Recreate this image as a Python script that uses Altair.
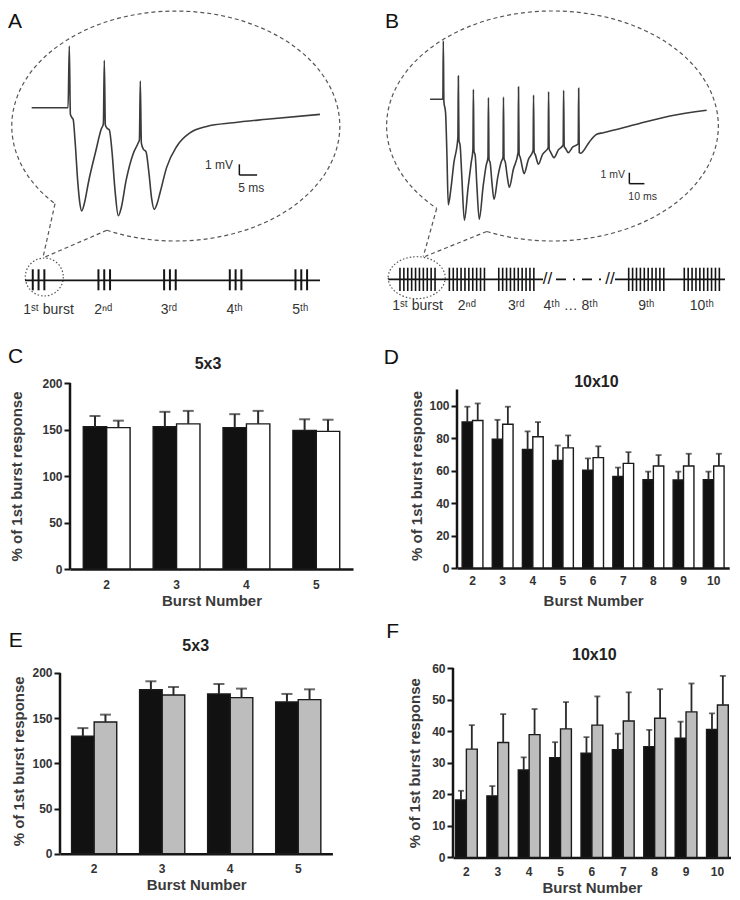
import altair as alt
import pandas as pd

FONT = "Liberation Sans"
TXT = "#333333"
INK = "#151515"
TRACE = "#3b3b3b"
DASH = "#555555"

# ---------------- bar chart data (% of 1st burst response) ----------------
bursts_5x3 = ["2", "3", "4", "5"]
bursts_10x10 = ["2", "3", "4", "5", "6", "7", "8", "9", "10"]

c_black_mean = [153, 153, 152, 149]
c_black_sem = [11.5, 16, 14.5, 12]
c_white_mean = [152, 156, 156, 148]
c_white_sem = [7.5, 14, 14, 12.5]

d_black_mean = [90, 79.3, 73, 66.3, 60.2, 56.4, 54.4, 54.2, 54.4]
d_black_sem = [9.4, 12, 11.2, 9.2, 7.3, 5.5, 5, 5.2, 5]
d_white_mean = [90.9, 88.6, 80.9, 74, 68, 64.5, 62.9, 62.9, 62.9]
d_white_sem = [10.5, 10.8, 9, 7.7, 7, 6.9, 6.7, 7.5, 7.5]

e_black_mean = [129.9, 181.5, 176.8, 167.9]
e_black_sem = [9.1, 9.3, 11, 8.9]
e_gray_mean = [145.8, 175.6, 172.7, 170.5]
e_gray_sem = [8.1, 8.9, 10, 11.4]

f_black_mean = [18.2, 19.5, 27.7, 31.6, 33, 34.1, 35.1, 37.8, 40.5]
f_black_sem = [2.9, 3.1, 4, 4.9, 5.1, 5.1, 5.3, 5.2, 5.1]
f_gray_mean = [34.3, 36.4, 38.9, 40.7, 41.9, 43.2, 44.1, 46.1, 48.3]
f_gray_sem = [7.6, 9, 8.1, 8.5, 9.1, 9.1, 9.2, 9, 9.2]

# ---------------- field potential traces (ms, mV) ----------------
a_time_ms = [-10.6, -0.35, 0.0, 0.3, 0.7, 1.1, 1.6, 2.4, 3.0, 3.5, 4.2, 5.5, 7.5, 9.0, 9.6,
             9.86, 10.15, 10.6, 11.3, 12.0, 12.9, 13.8, 14.6, 16.0, 18.0, 19.4, 19.75, 20.0,
             20.3, 20.9, 21.6, 22.4, 23.2, 23.9, 24.7, 25.6, 27.4, 30.3, 34.0, 38.7, 46.2,
             55.6, 70.6]
a_mv = [0.0, 0.0, 5.77, -0.6, -0.9, -1.1, -3.0, -7.0, -9.0, -9.65, -9.0, -6.8, -4.0, -2.0, -1.5,
        4.43, -1.6, -1.9, -2.1, -4.0, -7.8, -10.1, -9.4, -6.8, -4.3, -3.3, -3.0, 2.5,
        -3.3, -3.9, -4.1, -6.0, -8.5, -9.5, -9.0, -7.9, -5.6, -3.6, -2.35, -1.75, -1.4,
        -1.08, -0.62]

b_time_ms = [-8.8, -0.3, 0.0, 0.4, 1.5, 2.4, 3.3, 5.0, 7.0,
             9.7, 10.0, 10.4, 11.2, 12.3, 14.0, 16.5, 18.5,
             19.7, 20.0, 20.4, 21.2, 22.3, 23.9, 26.5, 28.5,
             29.7, 30.0, 30.4, 31.2, 32.3, 33.7, 36.3, 38.5,
             39.7, 40.0, 40.4, 41.2, 42.5, 43.9, 46.5,
             49.7, 50.0, 50.4, 51.2, 52.4, 53.7, 56.5,
             59.7, 60.0, 60.4, 61.2, 63.2, 66.0,
             69.7, 70.0, 70.4, 71.2, 73.6, 76.5,
             79.7, 80.0, 80.4, 81.2, 83.1, 86.0,
             89.7, 90.0, 90.4, 91.5, 93.1, 97.0, 102.0, 106.4, 128.6, 150.7, 175.1]
b_mv = [0.0, 0.0, 5.3, -0.2, -1.2, -5.0, -9.6, -8.2, -5.8,
        -3.5, 2.12, -3.7, -4.2, -7.0, -11.0, -8.0, -5.8,
        -4.55, 0.91, -4.7, -5.1, -7.8, -10.9, -7.9, -6.0,
        -5.3, 0.15, -5.45, -5.8, -7.5, -9.1, -7.0, -5.7,
        -5.25, 0.2, -5.4, -5.7, -7.0, -8.0, -6.4,
        -4.85, 1.12, -5.0, -5.3, -6.1, -6.76, -5.5,
        -4.64, 0.39, -4.8, -5.05, -5.9, -5.0,
        -4.4, 0.69, -4.55, -4.75, -5.3, -4.6,
        -4.15, 0.82, -4.3, -4.45, -4.85, -4.35,
        -4.04, 1.0, -4.85, -4.9, -4.7, -3.9, -3.18, -3.04, -2.27, -1.52, -1.0]

# scale bars (ms, mV)
a_scalebar = {"t0": 47.9, "t1": 52.9, "v0": -6.29, "v1": -5.29}
b_scalebar = {"t0": 123.7, "t1": 133.7, "v0": -7.67, "v1": -6.67}

# stimulation schematics
a_bursts = [1, 2, 3, 4, 5]
a_pulses = [1, 2, 3]
a_labels = ["1ˢᵗ burst", "2ⁿᵈ", "3ʳᵈ", "4ᵗʰ", "5ᵗʰ"]
b_slots = [1, 2, 3, 5.63, 6.755]
b_pulses = list(range(1, 11))
b_label_slots = [1, 2, 3, 4.1, 5.63, 6.755]
b_labels = ["1ˢᵗ burst", "2ⁿᵈ", "3ʳᵈ", "4ᵗʰ … 8ᵗʰ", "9ᵗʰ", "10ᵗʰ"]


def one():
    return pd.DataFrame({"k": [0]})


def txt(s, x, y, size, weight="normal", align="left", color=TXT, baseline="alphabetic"):
    return alt.Chart(pd.DataFrame({"s": [s]})).mark_text(
        font=FONT, fontSize=size, fontWeight=weight, align=align, baseline=baseline, color=color
    ).encode(text="s:N", x=alt.value(x), y=alt.value(y))


def seg(x1, y1, x2, y2, dash=None, width=1.2, color=DASH):
    kw = dict(color=color, strokeWidth=width)
    if dash:
        kw["strokeDash"] = dash
    return alt.Chart(one()).mark_rule(**kw).encode(
        x=alt.value(x1), y=alt.value(y1), x2=alt.value(x2), y2=alt.value(y2))


def vanchor(x, top, bottom):
    # invisible vertical rule that fixes the vertical layout box of a row
    return alt.Chart(one()).mark_rule(opacity=0, strokeWidth=1).encode(
        x=alt.value(x), y=alt.value(top), y2=alt.value(bottom))


def shape_at(path, x, y, size, dash, width=1.2, color=DASH):
    return alt.Chart(one()).mark_point(
        shape=path, size=size, filled=False, color=color, stroke=color,
        strokeWidth=width, strokeDash=dash, opacity=1
    ).encode(x=alt.value(x), y=alt.value(y))


def lin(dom):
    return alt.Scale(domain=dom, nice=False, zero=False)


def trace_layers(t, v, xdom, ydom, bar):
    df = pd.DataFrame({"t": t, "v": v})
    xs, ys = lin(xdom), lin(ydom)
    line = alt.Chart(df).mark_line(color=TRACE, strokeWidth=1.6, interpolate="monotone").encode(
        x=alt.X("t:Q", scale=xs, axis=None), y=alt.Y("v:Q", scale=ys, axis=None))
    bdf = pd.DataFrame([bar])
    vbar = alt.Chart(bdf).mark_rule(color=INK, strokeWidth=1.5).encode(
        x=alt.X("t0:Q", scale=xs, axis=None), y=alt.Y("v0:Q", scale=ys, axis=None), y2="v1:Q")
    hbar = alt.Chart(bdf).mark_rule(color=INK, strokeWidth=1.5).encode(
        x=alt.X("t0:Q", scale=xs, axis=None), x2="t1:Q", y=alt.Y("v0:Q", scale=ys, axis=None))
    return [line, vbar, hbar]


WA, WB, H1 = 362, 360, 274.3
ROW1_BOTTOM = 313.5

# ---------------- panel A ----------------
a_ticks_df = pd.DataFrame([(b, p) for b in a_bursts for p in a_pulses], columns=["b", "p"])
a_dom = [0.5347, 6.0463]
a_ticks = alt.Chart(a_ticks_df).transform_calculate(
    xpos="datum.b + (datum.p - 2) * 0.0883"
).mark_rule(color=INK, strokeWidth=2).encode(
    x=alt.X("xpos:Q", scale=lin(a_dom), axis=None), y=alt.value(260.3), y2=alt.value(281.3))
a_lab_df = pd.DataFrame({"b": a_bursts, "lab": a_labels})
a_lab_first = alt.Chart(a_lab_df).transform_filter("datum.b == 1").mark_text(
    font=FONT, fontSize=14, color=TXT, baseline="alphabetic", dx=10).encode(
    x=alt.X("b:Q", scale=lin(a_dom), axis=None), y=alt.value(305), text="lab:N")
a_lab_rest = alt.Chart(a_lab_df).transform_filter("datum.b > 1").mark_text(
    font=FONT, fontSize=14, color=TXT, baseline="alphabetic", dx=-1).encode(
    x=alt.X("b:Q", scale=lin(a_dom), axis=None), y=alt.value(305), text="lab:N")

panelA = alt.layer(
    vanchor(1, 0, ROW1_BOTTOM),
    shape_at("M -0.421 0.636 A 1 0.701 0 1 0 -0.737 0.474", 167.8, 117, 107584, [4, 3]),
    seg(47, 194.7, 35.3, 247, [4, 3]),
    seg(98.8, 221.3, 37, 248, [4, 3]),
    shape_at("circle", 36.3, 268, 1444, [1.5, 2]),
    seg(17, 271.3, 312, 271.3, None, 1.8, INK),
    a_ticks, a_lab_first, a_lab_rest,
    txt("1 mV", 225, 155.5, 12, align="right", baseline="middle"),
    txt("5 ms", 230.3, 178.7, 12, align="left", baseline="middle"),
    txt("A", 0, 19, 21, color="#111"),
    *trace_layers(a_time_ms, a_mv, [-17.268, 84.704], [-16.411, 9.2243], a_scalebar),
).resolve_scale(x="independent", y="independent").properties(width=WA, height=H1)

# ---------------- panel B ----------------
b_ticks_df = pd.DataFrame([(s, p) for s in b_slots for p in b_pulses], columns=["s", "p"])
b_dom = [0.0385, 7.366]
b_dom = [b_dom[0], b_dom[0] + (b_dom[1] - b_dom[0]) * WB / 362]
b_ticks = alt.Chart(b_ticks_df).transform_calculate(
    xpos="datum.s + (datum.p - 5.5) * 0.0789"
).mark_rule(color=INK, strokeWidth=1.6).encode(
    x=alt.X("xpos:Q", scale=lin(b_dom), axis=None), y=alt.value(258.7), y2=alt.value(282))
b_lab = alt.Chart(pd.DataFrame({"s": b_label_slots, "lab": b_labels})).mark_text(
    font=FONT, fontSize=14, color=TXT, baseline="alphabetic").encode(
    x=alt.X("s:Q", scale=lin(b_dom), axis=None), y=alt.value(301), text="lab:N")
b_tdom = [-48.74, -48.74 + 240.69 * WB / 362]

panelB = alt.layer(
    vanchor(1, 0, ROW1_BOTTOM),
    shape_at("M -0.397 0.6364 A 1 0.6934 0 1 0 -0.698 0.4966", 182.5, 117, 110025, [4, 3]),
    seg(66.7, 199.4, 53.3, 247.5, [4, 3]),
    seg(116.7, 222.5, 55, 247.5, [4, 3]),
    shape_at("M -1 0 A 1 0.737 0 1 0 1 0 A 1 0.737 0 1 0 -1 0 Z", 46.7, 268.7, 3249, [1.5, 2]),
    seg(18.3, 270.3, 173, 270.3, None, 1.8, INK),
    txt("//", 177.5, 270.3, 17, align="center", baseline="middle", color=INK),
    seg(186, 270.3, 233, 270.3, [10, 7, 2, 7], 1.8, INK),
    txt("//", 240, 270.3, 17, align="center", baseline="middle", color=INK),
    seg(245, 270.3, 355, 270.3, None, 1.8, INK),
    b_ticks, b_lab,
    txt("1 mV", 255, 166, 10.5, align="right", baseline="middle"),
    txt("10 ms", 258.3, 188, 10.5, align="left", baseline="middle"),
    txt("B", 15, 19, 21, color="#111"),
    *trace_layers(b_time_ms, b_mv, b_tdom, [-16.727, 8.209], b_scalebar),
).resolve_scale(x="independent", y="independent").properties(width=WB, height=H1)


# ---------------- bar panels ----------------
def bar_panel(bursts, m1, s1, m2, s2, fill2, W, H, ydom, ytop, yticks, pi, po, cap, errw,
              title, tpos, letter, lpos, ytx, xlp, xty, vbox):
    n = len(bursts)
    df = pd.DataFrame({"burst": bursts + bursts, "grp": ["a"] * n + ["b"] * n,
                       "fill": ["#111111"] * n + [fill2] * n,
                       "mean": m1 + m2, "sem": s1 + s2})
    ysc = alt.Scale(domain=[0, ydom], nice=False, zero=True)
    yax = alt.Axis(values=yticks, title="% of 1st burst response", domain=False, grid=False,
                   tickSize=6, tickWidth=2, tickColor=INK, labelFont=FONT, labelFontSize=12,
                   labelFontWeight="bold", labelColor=TXT, labelPadding=2,
                   titleFont=FONT, titleFontSize=15, titleFontWeight="bold", titleColor="#3a3a3a",
                   titleX=ytx, titleY=H / 2, titleBaseline="middle", titleAngle=270)
    xax = alt.Axis(title="Burst Number", labelAngle=0, ticks=False, tickSize=0, domainColor=INK,
                   domainWidth=2.5, labelFont=FONT, labelFontSize=12, labelFontWeight="bold",
                   labelColor=TXT, labelPadding=xlp, labelBaseline="middle",
                   titleFont=FONT, titleFontSize=15, titleFontWeight="bold", titleColor="#3a3a3a",
                   titleY=xty, titleBaseline="middle")
    X = alt.X("burst:N", sort=bursts, scale=alt.Scale(paddingInner=pi, paddingOuter=po), axis=xax)
    XO = alt.XOffset("grp:N", sort=["a", "b"])
    base = alt.Chart(df).transform_calculate(top="datum.mean + datum.sem")
    bars = base.mark_bar(stroke="#1a1a1a", strokeWidth=1.4).encode(
        x=X, xOffset=XO, y=alt.Y("mean:Q", scale=ysc, axis=yax),
        color=alt.Color("fill:N", scale=None))
    err = base.mark_rule(color="#2a2a2a", strokeWidth=errw).encode(
        x=X, xOffset=XO, y=alt.Y("mean:Q", scale=ysc, axis=yax), y2="top:Q")
    caps = base.mark_tick(color="#2a2a2a", thickness=errw, size=cap).encode(
        x=X, xOffset=XO, y=alt.Y("top:Q", scale=ysc, axis=yax))
    yline = alt.Chart(pd.DataFrame({"y0": [0], "y1": [ytop]})).mark_rule(
        color=INK, strokeWidth=2.5).encode(
        x=alt.value(0), y=alt.Y("y0:Q", scale=ysc, axis=yax), y2="y1:Q")
    ttl = txt(title, tpos[0], tpos[1], 16, "bold", "center", "#222222")
    let = txt(letter, lpos[0], lpos[1], 21, "normal", "left", "#111111")
    return alt.layer(vanchor(1, vbox[0], vbox[1]), bars, err, caps, yline, ttl, let).properties(
        width=W, height=H)


panelC = bar_panel(bursts_5x3, c_black_mean, c_black_sem, c_white_mean, c_white_sem, "#ffffff",
                   283, 186, 200, 200, [0, 50, 100, 150, 200], 0.33, 0.19, 11, 2,
                   "5x3", (138, -13.8), "C", (-62, -20.3), -54, 15, 31.7, (-59.3, 229))
panelD = bar_panel(bursts_10x10, d_black_mean, d_black_sem, d_white_mean, d_white_sem, "#ffffff",
                   272.2, 185, 114, 110, [0, 20, 40, 60, 80, 100], 0.31, 0.17, 6, 1.8,
                   "10x10", (139.4, 4.2), "D", (-73.3, -19.3), -40.6, 12.7, 32.7, (-59.3, 229))
panelE = bar_panel(bursts_5x3, e_black_mean, e_black_sem, e_gray_mean, e_gray_sem, "#bdbdbd",
                   272.4, 185.7, 205.5, 200, [0, 50, 100, 150, 200], 0.336, 0.17, 11, 2,
                   "5x3", (135.7, -16.8), "E", (-51.3, -21.3), -41.8, 14.3, 30.5, (-56, 220))
panelF = bar_panel(bursts_10x10, f_black_mean, f_black_sem, f_gray_mean, f_gray_sem, "#bdbdbd",
                   277.8, 189.4, 60, 60, [0, 10, 20, 30, 40, 50, 60], 0.307, 0.08, 6, 1.8,
                   "10x10", (141.3, -8.3), "F", (-66.7, -30.3), -38.4, 14.5, 30.5, (-56, 220))


def spacer(w):
    return alt.Chart(one()).mark_rule(opacity=0).encode(
        x=alt.value(w / 2), y=alt.value(0), y2=alt.value(1)).properties(width=w, height=1)


row1 = alt.hconcat(panelA, panelB, spacing=0, bounds="flush")
row2 = alt.hconcat(spacer(62), panelC, spacer(104), panelD, spacing=0, bounds="flush"
                   ).resolve_scale(xOffset="independent")
row3 = alt.hconcat(spacer(51.3), panelE, spacer(120), panelF, spacing=0, bounds="flush"
                   ).resolve_scale(xOffset="independent")

chart = alt.vconcat(row1, row2, row3, spacing=0).resolve_scale(
    xOffset="independent"
).properties(padding=0, background="white").configure(font=FONT).configure_view(stroke=None)

chart.save("out.html", embed_options={"renderer": "svg", "actions": False})
